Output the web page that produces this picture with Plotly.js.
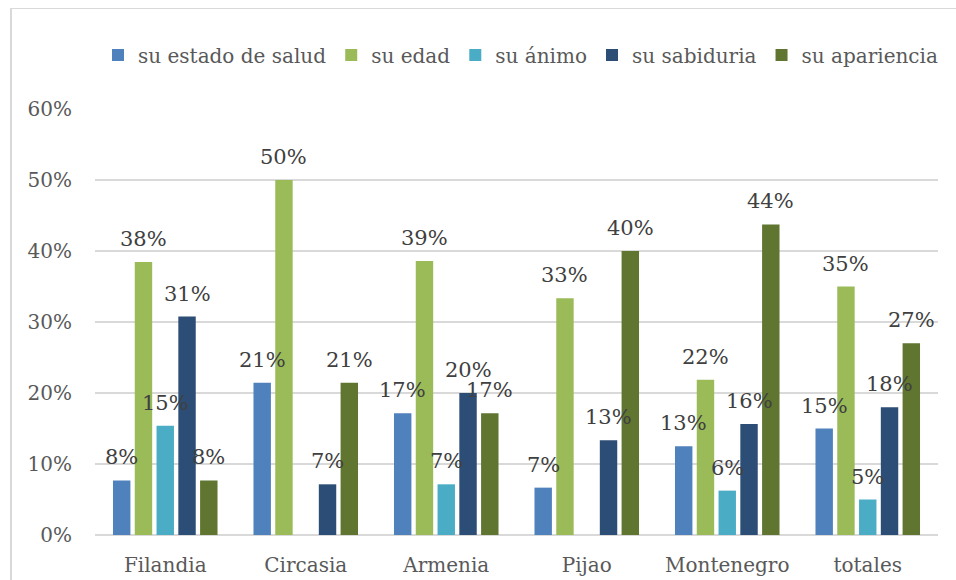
<!DOCTYPE html>
<html>
<head>
<meta charset="utf-8">
<script src="https://cdn.plot.ly/plotly-3.0.1.min.js"></script>
<style>
  html, body { margin: 0; padding: 0; background: #ffffff; }
  #wrap { position: relative; width: 956px; height: 580px; overflow: hidden; }
  #chart { width: 956px; height: 580px; }
  #frame { position: absolute; left: 10px; top: 8px; width: 1000px; height: 700px;
           border-left: 2px solid #d9d9d9; border-top: 1.5px solid #d9d9d9; pointer-events: none; }
</style>
</head>
<body>
<div id="wrap">
  <div id="chart"></div>
  <div id="frame"></div>
</div>
<script>
// ---- data ----
var categories = ["Filandia", "Circasia", "Armenia", "Pijao", "Montenegro", "totales"];
var seriesNames = ["su estado de salud", "su edad", "su ánimo", "su sabiduria", "su apariencia"];
var suEstadoDeSalud = [0.0769, 0.2143, 0.1714, 0.0667, 0.125, 0.15];
var suEdad          = [0.3846, 0.50,   0.386,  0.3333, 0.21875, 0.35];
var suAnimo         = [0.1538, 0,      0.0714, 0,      0.0625, 0.05];
var suSabiduria     = [0.3077, 0.0714, 0.20,   0.1333, 0.15625, 0.18];
var suApariencia    = [0.0769, 0.2143, 0.1714, 0.40,   0.4375, 0.27];
var yTickVals   = [0, 0.1, 0.2, 0.3, 0.4, 0.5, 0.6];
var yTickLabels = ["0%", "10%", "20%", "30%", "40%", "50%", "60%"];

var seriesValues = [suEstadoDeSalud, suEdad, suAnimo, suSabiduria, suApariencia];
var colors = ["#4F81BD", "#9BBB59", "#4BACC6", "#2C4D75", "#5F7530"];

var FONT = "DejaVu Serif, serif";
var W = 956, H = 580;
var margin = {l: 95, r: 18, t: 109, b: 45, pad: 0};
var bargap = 0.225, bargroupgap = 0.2;

var traces = seriesValues.map(function (vals, i) {
  return {
    type: "bar",
    name: seriesNames[i],
    x: categories,
    y: vals,
    marker: {color: colors[i]},
    hoverinfo: "skip"
  };
});

// data labels placed above each bar
var plotW = W - margin.l - margin.r;
var slotPx = plotW / categories.length * (1 - bargap) / seriesValues.length;
var annotations = [];
seriesValues.forEach(function (vals, i) {
  vals.forEach(function (v, j) {
    if (v > 0) {
      annotations.push({
        x: categories[j], y: v, xref: "x", yref: "y",
        xshift: (i - (seriesValues.length - 1) / 2) * slotPx,
        yshift: 9,
        yanchor: "bottom", xanchor: "center",
        text: Math.round(v * 100) + "%",
        showarrow: false,
        font: {family: FONT, size: 21, color: "#404040"}
      });
    }
  });
});

var layout = {
  width: W, height: H,
  margin: margin,
  paper_bgcolor: "#ffffff",
  plot_bgcolor: "#ffffff",
  barmode: "group",
  bargap: bargap,
  bargroupgap: bargroupgap,
  font: {family: FONT, size: 20, color: "#595959"},
  showlegend: true,
  legend: {
    orientation: "h",
    xref: "container", yref: "container",
    x: 98 / W, xanchor: "left",
    y: 1 - 55 / H, yanchor: "middle",
    font: {family: FONT, size: 20, color: "#595959"},
    itemwidth: 30,
    traceorder: "normal"
  },
  xaxis: {
    type: "category",
    showgrid: false,
    zeroline: false,
    showline: false,
    ticks: "outside", ticklen: 12, tickcolor: "rgba(0,0,0,0)",
    tickfont: {family: FONT, size: 20, color: "#595959"}
  },
  yaxis: {
    range: [0, 0.6],
    tickvals: yTickVals,
    ticktext: yTickLabels,
    showgrid: true, gridcolor: "#d9d9d9", gridwidth: 1.3,
    zeroline: true, zerolinecolor: "#d9d9d9", zerolinewidth: 1.3,
    showline: false,
    ticks: "outside", ticklen: 18, tickcolor: "rgba(0,0,0,0)",
    tickfont: {family: FONT, size: 20, color: "#595959"}
  },
  annotations: annotations
};

Plotly.newPlot("chart", traces, layout, {displayModeBar: false, staticPlot: true});
</script>
</body>
</html>
